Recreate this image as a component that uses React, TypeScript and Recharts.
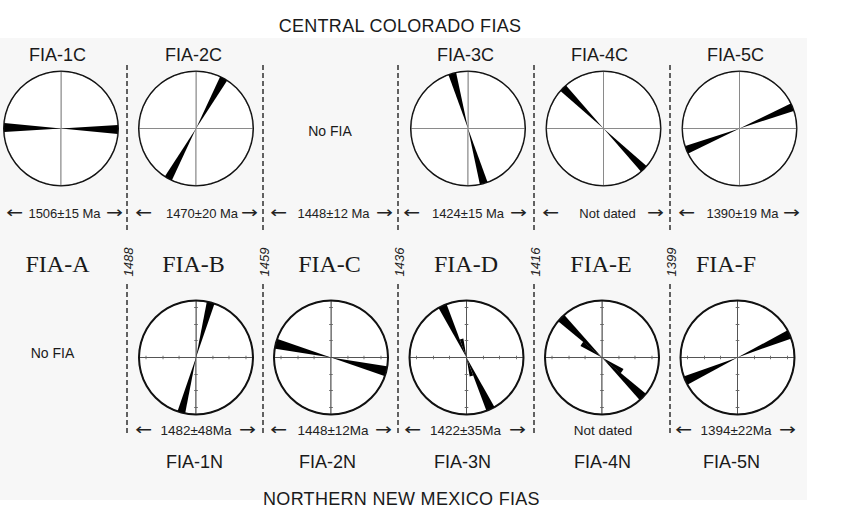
import React from "react";
import { PieChart, Pie, Cell } from "recharts";

// ---------- data ----------
// Central Colorado FIAs (top row)
const coloradoLabels = ["FIA-1C", "FIA-2C", "", "FIA-3C", "FIA-4C", "FIA-5C"];
const coloradoDates = ["1506±15 Ma", "1470±20 Ma", "1448±12 Ma", "1424±15 Ma", "Not dated", "1390±19 Ma"];
const coloradoTrends = [91, 29, null, 164, 135, 68]; // FIA trend, degrees clockwise from north
const coloradoSpread = [9, 8, 0, 8, 8, 8]; // angular width of petal (deg)

// FIA succession and boundary ages
const fiaNames = ["FIA-A", "FIA-B", "FIA-C", "FIA-D", "FIA-E", "FIA-F"];
const boundaryAges = ["1488", "1459", "1436", "1416", "1399"];

// Northern New Mexico FIAs (bottom row)
const newMexicoLabels = ["", "FIA-1N", "FIA-2N", "FIA-3N", "FIA-4N", "FIA-5N"];
const newMexicoDates = ["", "1482±48Ma", "1448±12Ma", "1422±35Ma", "Not dated", "1394±22Ma"];
const newMexicoDated = [false, true, true, true, false, true];
const newMexicoTrends = [null, 15, 104, 155, 134, 66];
const newMexicoSpread = [0, 8, 10, 9, 9, 9];
const newMexicoMinorTrends = [null, null, null, 165, 124, null];
const newMexicoMinorSpread = [0, 0, 0, 11, 12, 0];
const newMexicoMinorLength = [0, 0, 0, 0.33, 0.42, 0];

// ---------- layout ----------
const W = 845;
const H = 511;
const SANS = "'Liberation Sans', Arial, Helvetica, sans-serif";
const SERIF = "'Liberation Serif', 'Times New Roman', serif";
const dividers = [127, 263, 398, 534, 670];
const topCx = [61, 196, 330, 468, 603.5, 739.5];
const topCy = 128.5;
const botCx = [52.5, 196, 331, 466.5, 602, 737.5];
const botCy = 357.5;
const R = 58;

const topLabelX = [57.5, 193.5, 330, 465.5, 599.5, 735.5];
const topDateX = [64.5, 202, 333.5, 468, 607.5, 742.5];
const topArrowL = [6, 135, 270, 403, 542, 678];
const topArrowR = [123, 258, 393, 527, 664, 800];
const midLabelX = [57.5, 193.5, 329.5, 466, 601, 726];
const botDateX = [0, 196, 333, 465.5, 603, 736];
const botArrowL = [0, 135, 270, 404, 0, 675];
const botArrowR = [0, 256, 392, 526, 0, 796];
const botLabelX = [0, 194.5, 327.5, 462.5, 602.5, 731.5];

function Disc({ id, cx, cy, thick, axisColor }: any) {
  return [
    <Pie
      key={id + "-disc"}
      data={[{ v: 1 }, { v: 1 }, { v: 1 }, { v: 1 }]}
      dataKey="v"
      cx={cx}
      cy={cy}
      innerRadius={0}
      outerRadius={R - 1}
      startAngle={0}
      endAngle={360}
      fill="#ffffff"
      stroke={axisColor}
      strokeWidth={1}
      isAnimationActive={false}
      label={false}
      labelLine={false}
    />,
    <Pie
      key={id + "-ring"}
      data={[{ v: 1 }]}
      dataKey="v"
      cx={cx}
      cy={cy}
      innerRadius={thick ? R - 2 : R - 1.3}
      outerRadius={R}
      startAngle={90}
      endAngle={450}
      fill="#111"
      stroke="none"
      isAnimationActive={false}
      label={false}
      labelLine={false}
    />,
  ];
}

function ticks(id: string, cx: number, cy: number) {
  const dists = [17, 33, 50];
  return dists.map((d) => {
    const a = (1.8 / d) * (180 / Math.PI);
    const data = [0, 1, 2, 3].flatMap(() => [{ v: 2 * a }, { v: 90 - 2 * a }]);
    return (
      <Pie
        key={id + "-tick-" + d}
        data={data}
        dataKey="v"
        cx={cx}
        cy={cy}
        innerRadius={d - 0.45}
        outerRadius={d + 0.45}
        startAngle={a}
        endAngle={a - 360}
        stroke="none"
        isAnimationActive={false}
        label={false}
        labelLine={false}
      >
        {data.map((_, i) => (
          <Cell key={i} fill={i % 2 === 0 ? "#666" : "none"} />
        ))}
      </Pie>
    );
  });
}

function petal(id: string, cx: number, cy: number, trend: number, spread: number, radius: number) {
  const start = 90 - trend + spread / 2;
  const data = [{ v: spread }, { v: 180 - spread }, { v: spread }, { v: 180 - spread }];
  return (
    <Pie
      key={id}
      data={data}
      dataKey="v"
      cx={cx}
      cy={cy}
      innerRadius={0}
      outerRadius={radius}
      startAngle={start}
      endAngle={start - 360}
      stroke="none"
      isAnimationActive={false}
      label={false}
      labelLine={false}
    >
      {data.map((_, i) => (
        <Cell key={i} fill={i % 2 === 0 ? "#000" : "none"} />
      ))}
    </Pie>
  );
}

function Arrow({ x, y, dir }: any) {
  return (
    <text
      x={x}
      y={y}
      textAnchor={dir < 0 ? "start" : "end"}
      fontFamily="'DejaVu Sans', sans-serif"
      fontSize={16}
      textLength={17}
      lengthAdjust="spacingAndGlyphs"
      fill="#222"
    >
      {dir < 0 ? "←" : "→"}
    </text>
  );
}

export default function App() {
  const items: any[] = [];
  coloradoTrends.forEach((t, i) => {
    if (t === null) return;
    items.push(...Disc({ id: "c" + i, cx: topCx[i], cy: topCy, thick: false, axisColor: "#8a8a8a" }));
  });
  coloradoTrends.forEach((t, i) => {
    if (t === null) return;
    items.push(petal("cp" + i, topCx[i], topCy, t, coloradoSpread[i], R - 1));
  });
  newMexicoTrends.forEach((t, i) => {
    if (t === null) return;
    items.push(...Disc({ id: "n" + i, cx: botCx[i], cy: botCy, thick: true, axisColor: "#555" }));
    items.push(...ticks("n" + i, botCx[i], botCy));
  });
  newMexicoTrends.forEach((t, i) => {
    if (t === null) return;
    items.push(petal("np" + i, botCx[i], botCy, t, newMexicoSpread[i], R - 1.5));
    const mt = newMexicoMinorTrends[i];
    if (mt !== null) {
      items.push(petal("nm" + i, botCx[i], botCy, mt, newMexicoMinorSpread[i], R * newMexicoMinorLength[i]));
    }
  });

  return (
    <div style={{ position: "absolute", left: 0, top: 0, width: W, height: H, background: "#fff" }}>
      <div style={{ position: "absolute", left: 0, top: 38, width: 807, height: 462, background: "#f7f7f7" }} />
      <div style={{ position: "absolute", left: 0, top: 0 }}>
        <PieChart width={W} height={H} margin={{ top: 0, right: 0, bottom: 0, left: 0 }}>
          {items}
          {/* titles */}
          <text x={400} y={32} textAnchor="middle" fontFamily={SANS} fontSize={18} letterSpacing={0.3} fill="#1a1a1a">
            CENTRAL COLORADO FIAS
          </text>
          <text x={401.5} y={505} textAnchor="middle" fontFamily={SANS} fontSize={18} letterSpacing={0.3} fill="#1a1a1a">
            NORTHERN NEW MEXICO FIAS
          </text>
          {/* dashed dividers */}
          {dividers.map((x, i) => (
            <g key={"d" + i}>
              <line x1={x} x2={x} y1={65} y2={231} stroke="#222" strokeWidth={1.4} strokeDasharray="5 3" />
              <line x1={x} x2={x} y1={284} y2={433} stroke="#222" strokeWidth={1.4} strokeDasharray="5 3" />
              <text
                x={x + 1.5}
                y={262}
                transform={`rotate(-90 ${x + 1.5} 262)`}
                textAnchor="middle"
                dominantBaseline="central"
                fontFamily={SANS}
                fontStyle="italic"
                fontSize={13}
                fill="#222"
              >
                {boundaryAges[i]}
              </text>
            </g>
          ))}
          {/* top row labels */}
          {coloradoLabels.map((l, i) =>
            l ? (
              <text key={"cl" + i} x={topLabelX[i]} y={61} textAnchor="middle" fontFamily={SANS} fontSize={18} fill="#1a1a1a">
                {l}
              </text>
            ) : (
              <text key={"cl" + i} x={topLabelX[i]} y={136} textAnchor="middle" fontFamily={SANS} fontSize={14} fill="#1a1a1a">
                No FIA
              </text>
            )
          )}
          {coloradoDates.map((d, i) => (
            <g key={"cd" + i}>
              <Arrow x={topArrowL[i]} y={218} dir={-1} />
              <text x={topDateX[i]} y={218} textAnchor="middle" fontFamily={SANS} fontSize={13} fill="#222">
                {d}
              </text>
              <Arrow x={topArrowR[i]} y={218} dir={1} />
            </g>
          ))}
          {/* FIA succession */}
          {fiaNames.map((n, i) => (
            <text key={"f" + i} x={midLabelX[i]} y={272} textAnchor="middle" fontFamily={SERIF} fontSize={24} fill="#1a1a1a">
              {n}
            </text>
          ))}
          {/* bottom row */}
          <text x={botCx[0]} y={358} textAnchor="middle" fontFamily={SANS} fontSize={14} fill="#1a1a1a">
            No FIA
          </text>
          {newMexicoDates.map((d, i) =>
            d ? (
              <g key={"nd" + i}>
                {newMexicoDated[i] && <Arrow x={botArrowL[i]} y={435} dir={-1} />}
                <text x={botDateX[i]} y={435} textAnchor="middle" fontFamily={SANS} fontSize={13.5} fill="#222">
                  {d}
                </text>
                {newMexicoDated[i] && <Arrow x={botArrowR[i]} y={435} dir={1} />}
              </g>
            ) : null
          )}
          {newMexicoLabels.map((l, i) =>
            l ? (
              <text key={"nl" + i} x={botLabelX[i]} y={468} textAnchor="middle" fontFamily={SANS} fontSize={18} fill="#1a1a1a">
                {l}
              </text>
            ) : null
          )}
        </PieChart>
      </div>
    </div>
  );
}
